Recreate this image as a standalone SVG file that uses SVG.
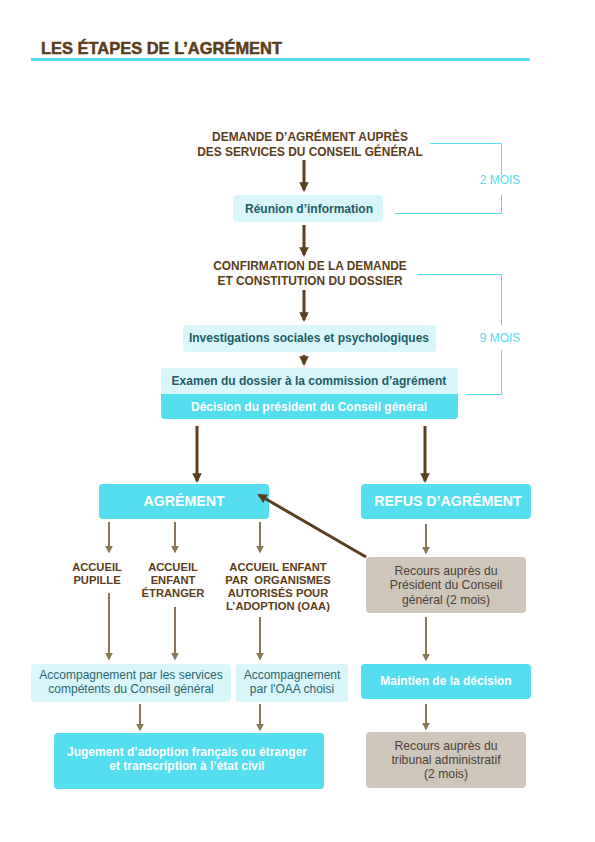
<svg xmlns="http://www.w3.org/2000/svg" width="595" height="842" viewBox="0 0 595 842">
<defs>
<style>
text{font-family:"Liberation Sans",Arial,sans-serif;text-anchor:middle}
.t{font-weight:bold;font-size:17px;fill:#5a3d1a;stroke:#5a3d1a;stroke-width:0.5;text-anchor:start}
.hd{font-weight:bold;font-size:11.9px;fill:#5a3d1a}
.sm{font-weight:bold;font-size:11.2px;fill:#5a3d1a;white-space:pre}
.lt{font-weight:bold;font-size:12px;fill:#1d5b66}
.wh{font-weight:bold;font-size:12px;fill:#ffffff}
.big{font-weight:bold;font-size:14.2px;fill:#ffffff}
.ac{font-size:12px;fill:#2a6670}
.bg{font-size:12.2px;fill:#4a4038}
.mo{font-size:12px;fill:#55dcef}
.pale{fill:#d9f6fa}
.cy{fill:#55deef}
.be{fill:#cfc6bb}
.a1{stroke:#5b3f1f;stroke-width:3;fill:none;marker-end:url(#h1)}
.a2{stroke:#8b7658;stroke-width:2;fill:none;marker-end:url(#h2)}
.br{stroke:#55dcef;stroke-width:1;fill:none}
</style>
<marker id="h1" viewBox="0 0 10 10" refX="8" refY="5" markerWidth="3.2" markerHeight="3.2" orient="auto" markerUnits="strokeWidth"><path d="M0,0 L10,5 L0,10 z" fill="#5b3f1f"/></marker>
<marker id="h2" viewBox="0 0 10 10" refX="8" refY="5" markerWidth="4" markerHeight="4" orient="auto" markerUnits="strokeWidth"><path d="M0,0 L10,5 L0,10 z" fill="#8b7658"/></marker>
</defs>
<rect width="595" height="842" fill="#ffffff"/>
<g id="title">
<text class="t" x="41" y="54" textLength="241" lengthAdjust="spacingAndGlyphs">LES ÉTAPES DE L’AGRÉMENT</text>
<rect x="31" y="58" width="499" height="3" fill="#55dcef"/>
</g>
<g id="duree2">
<text class="mo" x="500" y="184">2 MOIS</text>
</g>
<g id="duree9">
<text class="mo" x="500" y="342">9 MOIS</text>
</g>
<g id="demande">
<text class="hd" x="310" y="141">DEMANDE D’AGRÉMENT AUPRÈS</text>
<text class="hd" x="310" y="156">DES SERVICES DU CONSEIL GÉNÉRAL</text>
</g>
<g id="reunion">
<rect class="pale" x="233" y="195" width="150" height="27" rx="4"/>
<text class="lt" x="309" y="213">Réunion d’information</text>
</g>
<g id="confirmation">
<text class="hd" x="310" y="270">CONFIRMATION DE LA DEMANDE</text>
<text class="hd" x="310" y="285">ET CONSTITUTION DU DOSSIER</text>
</g>
<g id="investigations">
<rect class="pale" x="183" y="325" width="253" height="27" rx="4"/>
<text class="lt" x="309" y="342">Investigations sociales et psychologiques</text>
</g>
<g id="examen">
<rect class="cy" x="161" y="368" width="297" height="51" rx="4"/>
<path class="pale" d="M165,368 H454 A4,4 0 0 1 458,372 V394 H161 V372 A4,4 0 0 1 165,368 Z"/>
<text class="lt" x="309" y="385">Examen du dossier à la commission d’agrément</text>
<text class="wh" x="309" y="411">Décision du président du Conseil général</text>
</g>
<g id="agrement">
<rect class="cy" x="99" y="484" width="170" height="35" rx="4"/>
<text class="big" x="184" y="506">AGRÉMENT</text>
</g>
<g id="refus">
<rect class="cy" x="361" y="484" width="170" height="35" rx="4"/>
<text class="big" x="448" y="506">REFUS D’AGRÉMENT</text>
</g>
<g id="pupille">
<text class="sm" x="97" y="571">ACCUEIL</text>
<text class="sm" x="97" y="584">PUPILLE</text>
</g>
<g id="etranger">
<text class="sm" x="173" y="571">ACCUEIL</text>
<text class="sm" x="173" y="584">ENFANT</text>
<text class="sm" x="173" y="597">ÉTRANGER</text>
</g>
<g id="oaa">
<text class="sm" x="278" y="571">ACCUEIL ENFANT</text>
<text class="sm" x="278" y="584" xml:space="preserve">PAR  ORGANISMES</text>
<text class="sm" x="278" y="597">AUTORISÉS POUR</text>
<text class="sm" x="278" y="610">L’ADOPTION (OAA)</text>
</g>
<g id="accomp1">
<rect class="pale" x="31" y="664" width="200" height="38" rx="4"/>
<text class="ac" x="131" y="679">Accompagnement par les services</text>
<text class="ac" x="131" y="693">compétents du Conseil général</text>
</g>
<g id="accomp2">
<rect class="pale" x="236" y="664" width="112" height="38" rx="4"/>
<text class="ac" x="292" y="679">Accompagnement</text>
<text class="ac" x="292" y="693">par l'OAA choisi</text>
</g>
<g id="jugement">
<rect class="cy" x="54" y="733" width="270" height="56" rx="4"/>
<text class="wh" x="187" y="756">Jugement d’adoption français ou étranger</text>
<text class="wh" x="187" y="770">et transcription à l’état civil</text>
</g>
<g id="recours1">
<rect class="be" x="366" y="557" width="160" height="56" rx="4"/>
<text class="bg" x="446" y="575">Recours auprès du</text>
<text class="bg" x="446" y="589">Président du Conseil</text>
<text class="bg" x="446" y="604">général (2 mois)</text>
</g>
<g id="maintien">
<rect class="cy" x="361" y="664" width="170" height="35" rx="4"/>
<text class="wh" x="446" y="685">Maintien de la décision</text>
</g>
<g id="recours2">
<rect class="be" x="366" y="732" width="160" height="56" rx="4"/>
<text class="bg" x="446" y="750">Recours auprès du</text>
<text class="bg" x="446" y="764">tribunal administratif</text>
<text class="bg" x="446" y="778">(2 mois)</text>
</g>
<g id="connectors">
<path class="a1" d="M304,160 V190"/>
<path class="a1" d="M304,225 V255"/>
<path class="a1" d="M304,290 V320"/>
<path class="a1" d="M304,355 V364"/>
<path class="a1" d="M197,426 V481"/>
<path class="a1" d="M425,426 V481"/>
<path class="a1" d="M366,557 L259,495"/>
<path class="a2" d="M109,522 V552"/>
<path class="a2" d="M175,522 V552"/>
<path class="a2" d="M260,522 V552"/>
<path class="a2" d="M109,593 V659"/>
<path class="a2" d="M175,607 V659"/>
<path class="a2" d="M260,617 V659"/>
<path class="a2" d="M140,704 V730"/>
<path class="a2" d="M260,704 V730"/>
<path class="a2" d="M426,524 V553"/>
<path class="a2" d="M426,617 V660"/>
<path class="a2" d="M426,704 V729"/>
<path class="br" d="M430,143.5 H501.5 V175 M501.5,195 V213.5 H395"/>
<path class="br" d="M417,274.5 H501.5 V325 M501.5,350 V394.5 H466"/>
</g>
</svg>
